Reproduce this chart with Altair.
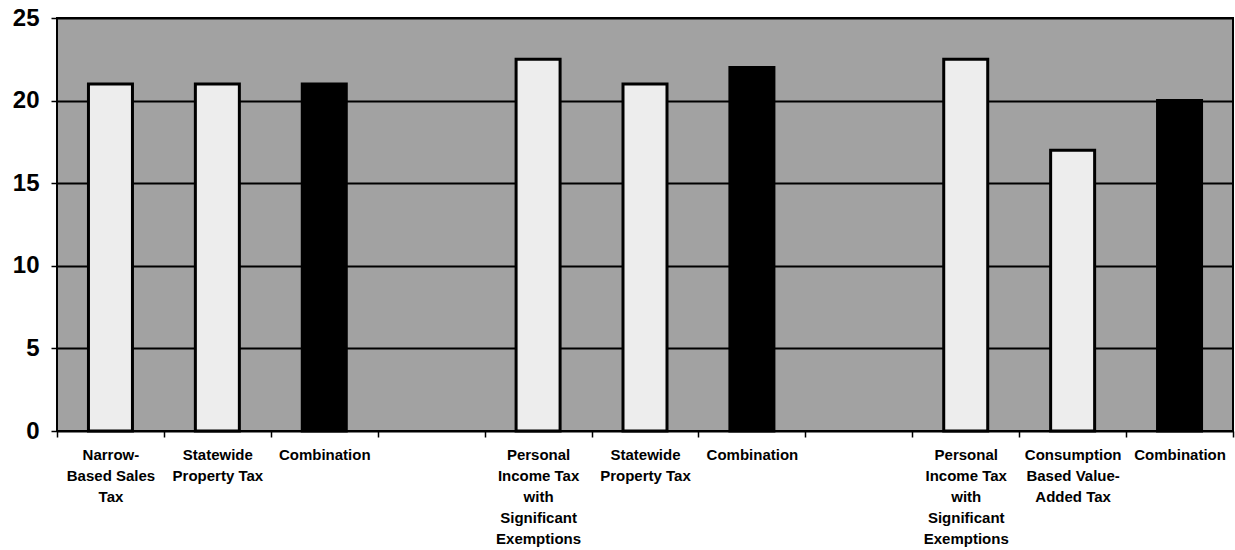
import json
import altair as alt
import pandas as pd

# Eleven category slots; slots 3 and 7 are empty spacers between the three groups
slots = [0, 1, 2, 4, 5, 6, 8, 9, 10]
values = [21, 21, 21, 22.5, 21, 22, 22.5, 17, 20]
kinds = ["single", "single", "combination",
         "single", "single", "combination",
         "single", "single", "combination"]

slot_labels = [
    ["Narrow-", "Based Sales", "Tax"],
    ["Statewide", "Property Tax"],
    ["Combination"],
    [""],
    ["Personal", "Income Tax", "with", "Significant", "Exemptions"],
    ["Statewide", "Property Tax"],
    ["Combination"],
    [""],
    ["Personal", "Income Tax", "with", "Significant", "Exemptions"],
    ["Consumption", "Based Value-", "Added Tax"],
    ["Combination"],
]

y_ticks = [0, 5, 10, 15, 20, 25]

df = pd.DataFrame({"slot": slots, "value": values, "kind": kinds})

label_expr = json.dumps(slot_labels) + "[datum.value]"

FONT = "Liberation Sans"

chart = alt.Chart(df).mark_bar(
    size=44, stroke="black", strokeWidth=3
).encode(
    x=alt.X(
        "slot:O",
        scale=alt.Scale(domain=list(range(11)), paddingInner=0, paddingOuter=0),
        axis=alt.Axis(
            title=None,
            labelAngle=0,
            labelExpr=label_expr,
            labelFont=FONT,
            labelFontSize=15,
            labelFontWeight="bold",
            labelColor="black",
            labelLineHeight=21,
            labelBaseline="top",
            labelPadding=10,
            tickBand="extent",
            tickSize=6,
            tickColor="black",
            tickWidth=1.5,
            domain=False,
            labelOverlap=False,
        ),
    ),
    y=alt.Y(
        "value:Q",
        scale=alt.Scale(domain=[0, 25], nice=False),
        axis=alt.Axis(
            title=None,
            values=y_ticks,
            grid=True,
            gridColor="black",
            gridWidth=2,
            gridOpacity=1,
            labelFont=FONT,
            labelFontSize=24,
            labelFontWeight="bold",
            labelColor="black",
            labelPadding=12,
            tickSize=6,
            tickColor="black",
            tickWidth=1.5,
            domain=False,
        ),
    ),
    color=alt.Color(
        "kind:N",
        scale=alt.Scale(domain=["single", "combination"], range=["#ededed", "#000000"]),
        legend=None,
    ),
).properties(
    width=1176,
    height=413,
    background="white",
    autosize=alt.AutoSizeParams(type="none"),
    padding={"left": 57, "top": 18, "right": 2, "bottom": 119},
).configure_view(
    fill="#a2a2a2",
    stroke="black",
    strokeWidth=2,
)

chart.save("out.html", embed_options={"renderer": "svg", "actions": False})
